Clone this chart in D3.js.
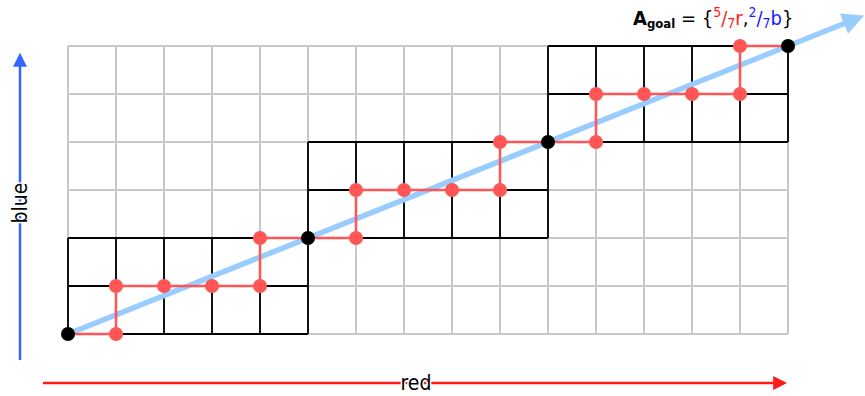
<!DOCTYPE html>
<html>
<head>
<meta charset="utf-8">
<script src="https://cdn.jsdelivr.net/npm/d3@7"></script>
<style>
  body { margin: 0; background: #fff; }
  svg { display: block; font-family: "DejaVu Sans Condensed", "DejaVu Sans", sans-serif; }
</style>
</head>
<body>
<div id="chart"></div>
<script>
// grid size in cells
const cols = 15;
const rows = 6;

// black outlined blocks (grid units)
const blocks = [
  { x0: 0, y0: 0, x1: 5, y1: 2 },
  { x0: 5, y0: 2, x1: 10, y1: 4 },
  { x0: 10, y0: 4, x1: 15, y1: 6 }
];

// red staircase path (grid units)
const redPath = [
  [0, 0], [1, 0], [1, 1], [2, 1], [3, 1], [4, 1], [4, 2], [5, 2],
  [6, 2], [6, 3], [7, 3], [8, 3], [9, 3], [9, 4], [10, 4],
  [11, 4], [11, 5], [12, 5], [13, 5], [14, 5], [14, 6], [15, 6]
];

// black dots on the goal line
const blackDots = [[0, 0], [5, 2], [10, 4], [15, 6]];

// goal line start / end (grid units, extended past the grid)
const goalLine = [[0, 0], [16.25, 6.5]];

const width = 865, height = 396;

let x = d3.scaleLinear().domain([0, cols]).range([68, 788]);
let y = d3.scaleLinear().domain([0, rows]).range([334, 46]);

let svg = d3.select('#chart')
  .append('svg')
  .attr('width', width)
  .attr('height', height);

let defs = svg.append('defs');
function marker(id, color, w, h) {
  defs.append('marker')
    .attr('id', id)
    .attr('viewBox', '0 0 10 10')
    .attr('refX', 2)
    .attr('refY', 5)
    .attr('markerUnits', 'userSpaceOnUse')
    .attr('markerWidth', w)
    .attr('markerHeight', h)
    .attr('orient', 'auto')
    .append('path')
    .attr('d', 'M0,0 L10,5 L0,10 Z')
    .attr('fill', color);
}
marker('arrRed', '#ff1a1a', 14, 14);
marker('arrBlue', '#3366ff', 14, 14);
marker('arrLight', '#99ccff', 22, 22);

// light gray grid
let grid = svg.append('g');
grid.selectAll('.vline')
  .data(d3.range(cols + 1))
  .enter()
  .append('line')
  .attr('x1', d => x(d)).attr('x2', d => x(d))
  .attr('y1', y(0)).attr('y2', y(rows))
  .attr('stroke', '#c8c8c8')
  .attr('stroke-width', 2);
grid.selectAll('.hline')
  .data(d3.range(rows + 1))
  .enter()
  .append('line')
  .attr('x1', x(0)).attr('x2', x(cols))
  .attr('y1', d => y(d)).attr('y2', d => y(d))
  .attr('stroke', '#c8c8c8')
  .attr('stroke-width', 2);

// black blocks
let blockG = svg.append('g');
blocks.forEach(b => {
  let g = blockG.append('g');
  g.selectAll('line.v')
    .data(d3.range(b.x0, b.x1 + 1))
    .enter()
    .append('line')
    .attr('x1', d => x(d)).attr('x2', d => x(d))
    .attr('y1', y(b.y0)).attr('y2', y(b.y1))
    .attr('stroke', '#000')
    .attr('stroke-width', 1.8);
  g.selectAll('line.h')
    .data(d3.range(b.y0, b.y1 + 1))
    .enter()
    .append('line')
    .attr('x1', x(b.x0)).attr('x2', x(b.x1))
    .attr('y1', d => y(d)).attr('y2', d => y(d))
    .attr('stroke', '#000')
    .attr('stroke-width', 1.8);
});

// goal line
svg.append('line')
  .attr('x1', x(goalLine[0][0])).attr('y1', y(goalLine[0][1]))
  .attr('x2', x(goalLine[1][0])).attr('y2', y(goalLine[1][1]))
  .attr('stroke', '#99ccff')
  .attr('stroke-width', 5.5)
  .attr('marker-end', 'url(#arrLight)');

// red path
svg.append('path')
  .datum(redPath)
  .attr('d', d3.line().x(d => x(d[0])).y(d => y(d[1])))
  .attr('fill', 'none')
  .attr('stroke', '#ff5555')
  .attr('stroke-width', 2.5);

let isBlack = p => blackDots.some(b => b[0] === p[0] && b[1] === p[1]);

svg.selectAll('.rdot')
  .data(redPath.filter(p => !isBlack(p)))
  .enter()
  .append('circle')
  .attr('cx', d => x(d[0]))
  .attr('cy', d => y(d[1]))
  .attr('r', 7)
  .attr('fill', '#ff5555');

svg.selectAll('.bdot')
  .data(blackDots)
  .enter()
  .append('circle')
  .attr('cx', d => x(d[0]))
  .attr('cy', d => y(d[1]))
  .attr('r', 7)
  .attr('fill', '#000');

// axes arrows
svg.append('line')
  .attr('x1', 43).attr('y1', 383)
  .attr('x2', 776).attr('y2', 383)
  .attr('stroke', '#ff1a1a')
  .attr('stroke-width', 2.5)
  .attr('marker-end', 'url(#arrRed)');
svg.append('text')
  .attr('x', 416).attr('y', 383)
  .attr('dy', '0.35em')
  .attr('text-anchor', 'middle')
  .attr('font-size', 21)
  .attr('fill', '#000')
  .attr('stroke', '#fff').attr('stroke-width', 3).attr('paint-order', 'stroke')
  .text('red');

svg.append('line')
  .attr('x1', 20).attr('y1', 360)
  .attr('x2', 20).attr('y2', 64)
  .attr('stroke', '#3366ff')
  .attr('stroke-width', 2.5)
  .attr('marker-end', 'url(#arrBlue)');
svg.append('text')
  .attr('transform', 'translate(20,203) rotate(-90)')
  .attr('dy', '0.35em')
  .attr('text-anchor', 'middle')
  .attr('font-size', 21)
  .attr('fill', '#000')
  .attr('stroke', '#fff').attr('stroke-width', 3).attr('paint-order', 'stroke')
  .text('blue');

// title
let t = svg.append('text')
  .attr('x', 633).attr('y', 25)
  .attr('font-size', 20)
  .attr('fill', '#000');
t.append('tspan').attr('font-weight', 'bold').text('A');
t.append('tspan').attr('font-weight', 'bold').attr('font-size', 13).attr('dy', 3).text('goal');
t.append('tspan').attr('dy', -3).text(' = {');
t.append('tspan').attr('fill', '#ff1a1a').attr('font-size', 14).attr('dy', -8).text('5');
t.append('tspan').attr('fill', '#ff1a1a').attr('dy', 8).text('/');
t.append('tspan').attr('fill', '#ff1a1a').attr('font-size', 14).attr('dy', 3).text('7');
t.append('tspan').attr('fill', '#ff1a1a').attr('dy', -3).text('r');
t.append('tspan').text(',');
t.append('tspan').attr('fill', '#1a1aff').attr('font-size', 14).attr('dy', -8).text('2');
t.append('tspan').attr('fill', '#1a1aff').attr('dy', 8).text('/');
t.append('tspan').attr('fill', '#1a1aff').attr('font-size', 14).attr('dy', 3).text('7');
t.append('tspan').attr('fill', '#1a1aff').attr('dy', -3).text('b');
t.append('tspan').text('}');
</script>
</body>
</html>
